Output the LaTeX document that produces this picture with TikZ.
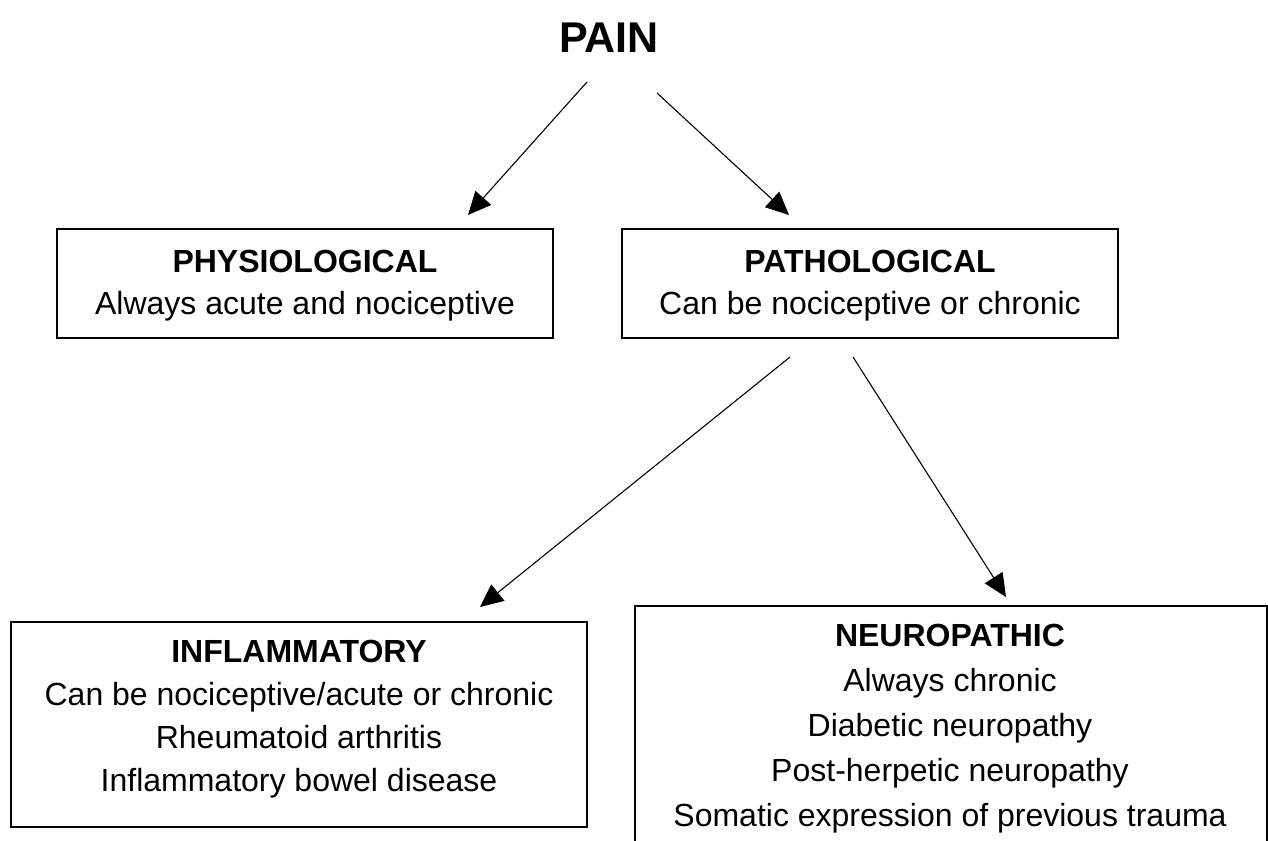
\documentclass[tikz,border=0pt]{standalone}
\usepackage{fontspec}
\setmainfont{Liberation Sans}
\usetikzlibrary{arrows.meta,calc}

\tikzset{
  box/.style={draw=black, line width=1.2pt, rectangle, inner sep=0pt},
  txt/.style={align=center, inner sep=0pt, font=\fontsize{32}{43}\selectfont},
  title/.style={inner sep=0pt, font=\fontsize{43}{48}\selectfont\bfseries},
  link/.style={line width=1.1pt, -{Triangle[length=23pt, width=21pt]}}
}

\begin{document}
\begin{tikzpicture}[x=1pt, y=-1pt]
  \useasboundingbox (0,0) rectangle (1268,840);

  % title
  \node[title] (pain) at (609,38) {PAIN};

  % first level boxes
  \draw[box] (57,229) rectangle (553,338);
  \node[txt, font=\fontsize{32}{42}\selectfont] (phys) at (305,286) {{\bfseries PHYSIOLOGICAL}\\Always acute and nociceptive};

  \draw[box] (622,229) rectangle (1118,338);
  \node[txt, font=\fontsize{32}{42}\selectfont] (path) at (870,286) {{\bfseries PATHOLOGICAL}\\Can be nociceptive or chronic};

  % second level boxes
  \draw[box] (11,622) rectangle (587,827);
  \node[txt] (infl) at (299,719) {{\bfseries INFLAMMATORY}\\Can be nociceptive/acute or chronic\\Rheumatoid arthritis\\Inflammatory bowel disease};

  \draw[box] (635,606) rectangle (1267,880);
  \node[txt, font=\fontsize{32}{45}\selectfont] (neuro) at (950,729) {{\bfseries NEUROPATHIC}\\Always chronic\\Diabetic neuropathy\\Post-herpetic neuropathy\\Somatic expression of previous trauma};

  % arrow end points
  \coordinate (a1s) at (587,82);   \coordinate (a1e) at (468,215);
  \coordinate (a2s) at (657,93);   \coordinate (a2e) at (789,215);
  \coordinate (a3s) at (790,357);  \coordinate (a3e) at (480,607);
  \coordinate (a4s) at (853,357);  \coordinate (a4e) at (1006,597);

  \draw[link] (a1s) -- (a1e);
  \draw[link] (a2s) -- (a2e);
  \draw[link] (a3s) -- (a3e);
  \draw[link] (a4s) -- (a4e);
\end{tikzpicture}
\end{document}
